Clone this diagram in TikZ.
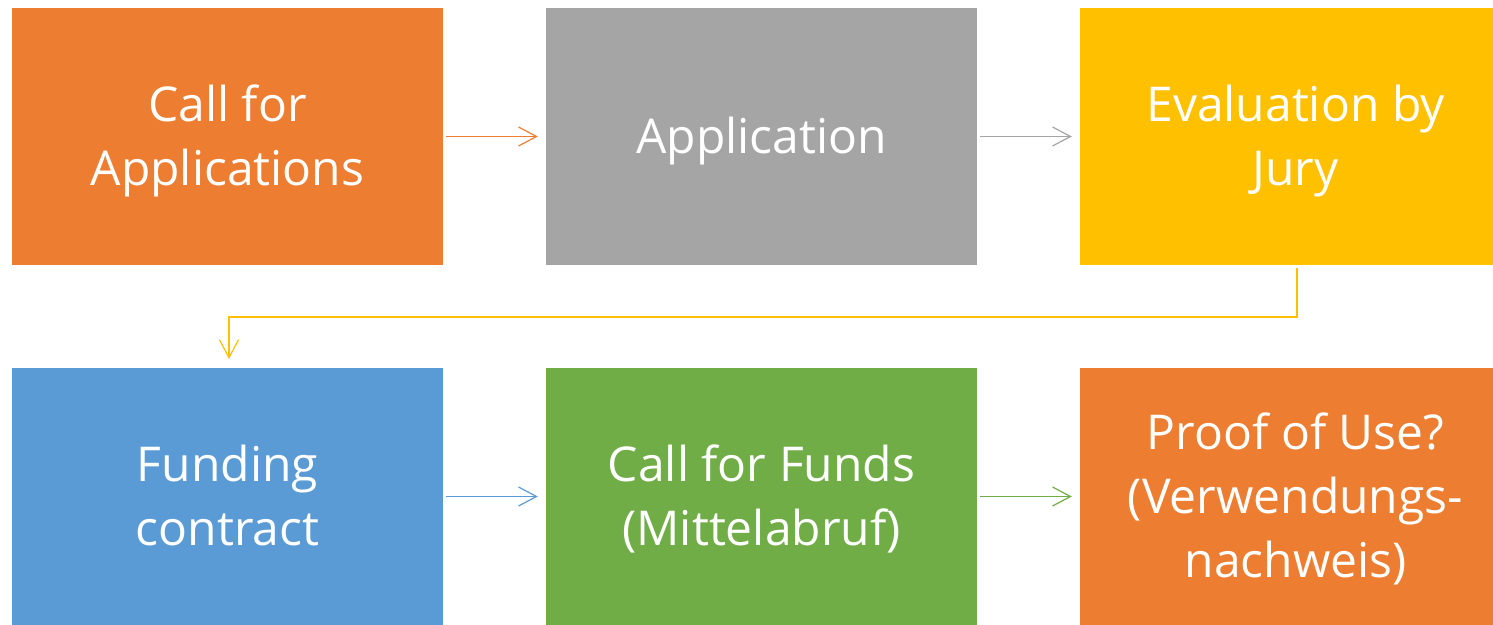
\documentclass[tikz,border=0pt]{standalone}
\usepackage{fontspec}
\setmainfont{Open Sans}
\usetikzlibrary{arrows.meta}
\definecolor{cOrange}{HTML}{ED7D31}
\definecolor{cGray}{HTML}{A5A5A5}
\definecolor{cYellow}{HTML}{FFC000}
\definecolor{cBlue}{HTML}{5B9BD5}
\definecolor{cGreen}{HTML}{70AD47}
\newcommand{\boxtxt}[1]{\raisebox{-4pt}[\height][\depth]{\begin{tabular}{@{}c@{}}#1\end{tabular}}}
\tikzset{
  box/.style={fill=#1, draw=none, minimum width=431pt, minimum height=257pt, inner sep=0pt,
    text=white, font=\fontsize{48}{64}\selectfont},
  flow/.style={draw=#1, line width=1.2pt, -{Straight Barb[length=18pt,width=19pt,line width=1.2pt]}}
}
\begin{document}
\begin{tikzpicture}[x=1pt,y=1pt]
\useasboundingbox (0,0) rectangle (1493,624);
\begin{scope}
\clip (0,0) rectangle (1493,624);
\node[box=cOrange] (b1) at (227.5,487.5) {\boxtxt{Call for\\Applications}};
\node[box=cGray] (b2) at (761.5,487.5) {\boxtxt{Application}};
\node[box=cYellow] (b3) at (1295.5,487.5) {\boxtxt{Evaluation by\\Jury}};
\node[box=cBlue] (b4) at (227.5,127.5) {\boxtxt{Funding\\contract}};
\node[box=cGreen] (b5) at (761.5,127.5) {\boxtxt{Call for Funds\\(Mittelabruf)}};
\node[box=cOrange] (b6) at (1295.5,127.5) {\boxtxt{Proof of Use?\\(Verwendungs-\\nachweis)}};
\end{scope}
\coordinate (c1) at (1297,307);
\coordinate (c2) at (229,307);
\coordinate (c3) at (229,265);
\draw[flow=cOrange] ([xshift=3pt]b1.east) -- ([xshift=-8pt]b2.west);
\draw[flow=cGray] ([xshift=3pt]b2.east) -- ([xshift=-8pt]b3.west);
\draw[flow=cBlue] ([xshift=3pt]b4.east) -- ([xshift=-8pt]b5.west);
\draw[flow=cGreen] ([xshift=3pt]b5.east) -- ([xshift=-8pt]b6.west);
\draw[flow=cYellow] ([yshift=-3pt]b3.south -| c1) -- (c1) -- (c2) -- (c3);
\end{tikzpicture}
\end{document}
